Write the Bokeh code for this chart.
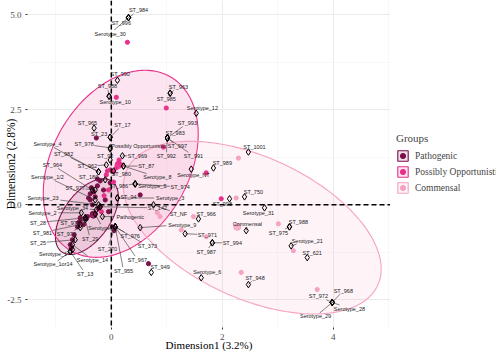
import numpy as np
from bokeh.plotting import figure
from bokeh.layouts import row
from bokeh.models import ColumnDataSource, Span, FixedTicker, Legend, LegendItem, Range1d
from bokeh.core.properties import value
from bokeh.embed import file_html
from bokeh.resources import INLINE

# ---------------- data ----------------
groups = ["Pathogenic", "Possibly Opportunistic", "Commensal"]
group_colors = ["#7B0F48", "#E8308A", "#F5A3C0"]

# individuals by group
path_x = [-0.27, -0.25, -0.20, -0.36, -0.32, -0.38, -0.29, -0.38, -0.20, -0.23, -0.43, -0.45, -0.56,
          -0.59, -0.56, -0.61, -0.67, -0.70, -0.74, -0.72, 0.02, 0.05, -0.29, 0.67, 0.52, -0.11,
          -0.05, -0.50, -0.34, -0.41, -0.25, -0.14, -0.02]
path_y = [1.76, 0.68, 0.63, 0.45, 0.34, 0.29, 0.21, 0.13, -0.05, -0.10, -0.31, -0.37, -0.34,
          -0.47, -0.42, -0.58, -0.79, -0.92, -1.05, -1.13, -0.58, -0.68, -0.24, -1.55, 0.26, 0.13,
          -0.18, -0.52, 0.00, 0.18, 0.50, 0.39, 0.58]
popp_x = [0.29, 0.09, 0.99, 0.94, 0.13, 0.18, 0.14, 0.04, -0.07, -0.09, -0.02, 0.04, 0.09, 1.71,
          1.98, -0.05, -0.13, -0.34, -0.18]
popp_y = [4.28, 2.83, 2.55, 1.52, 1.10, 1.05, 1.18, 0.87, 0.89, 0.79, 0.92, 0.60, 0.97, 0.84,
          0.16, 0.39, 0.24, -0.24, -0.18]
comm_x = [2.29, 2.25, 1.48, 1.26, 1.71, 0.83, 3.01, 3.28, 2.34, 3.71, 0.88]
comm_y = [1.23, 0.18, -0.31, -0.66, -0.84, -0.21, -0.50, -1.21, -1.78, -2.23, -0.31]

# group mean points
mean_x = [-0.32, 0.13, 2.27]
mean_y = [-0.26, 1.05, -0.58]

# concentration ellipses: centre, major and minor half-axis vectors
ell_cx = [-0.44, 0.17, 2.54]
ell_cy = [-0.31, 1.08, -0.60]
ell_ux = [0.449, 0.884, 2.26]
ell_uy = [0.932, 2.30, -1.52]
ell_vx = [0.346, 1.08, -0.535]
ell_vy = [-0.354, -0.88, -1.69]

# variable categories and their label positions
var_names = ["ST_984", "ST_996", "Serotype_30", "ST_990", "ST_988", "Serotype_10", "ST_963", "ST_985",
             "Serotype_12", "ST_965", "ST_17", "ST_23", "ST_993", "ST_983", "ST_997", "ST_992", "ST_991",
             "ST_978", "Serotype_4", "ST_982", "ST_92", "ST_969", "ST_87", "ST_962", "ST_964", "ST_980",
             "Serotype_8", "Serotype_1/2", "ST_180", "ST_986", "Serotype_5", "ST_974", "ST_977", "ST_94",
             "Serotype_3", "Serotype_23", "Serotype_34", "ST_142", "ST_NF", "Serotype_2", "ST_28", "ST_979",
             "ST_981", "ST_973", "ST_25", "Serotype_7", "ST_29", "ST_976", "ST_270", "Serotype_1",
             "Serotype_1or14", "Serotype_14", "ST_13", "ST_967", "ST_955", "ST_373", "ST_949", "ST_1001",
             "ST_989", "Serotype_NT", "ST_750", "ST_998", "Serotype_31", "ST_966", "Serotype_9", "ST_971",
             "ST_987", "ST_994", "Commensal", "Pathogenic", "Possibly Opportunistic", "ST_988", "ST_975",
             "Serotype_21", "ST_621", "Serotype_6", "ST_948", "ST_968", "ST_972", "Serotype_28", "Serotype_29"]
var_x = [0.31, 0.31, 0.31, 0.11, -0.04, -0.04, 1.06, 1.06,
         1.53, -0.31, -0.02, -0.02, 1.01, 1.01, 1.01, 1.01, 1.01,
         -0.02, -0.23, -0.23, -0.02, 0.20, 0.22, -0.09, -0.34, 0.04,
         0.22, -0.29, -0.11, 0.43, 0.43, 0.43, -0.29, 0.11,
         0.11, -0.23, -0.27, -0.20, 0.76, -0.54, -0.47, -0.47,
         -0.56, -0.56, -0.65, -0.29, -0.47, 0.07, 0.07, -0.70,
         -0.74, -0.70, -0.74, 0.07, 0.07, 0.07, 0.72, 2.47,
         1.84, 1.44, 2.40, 2.13, 2.76, 1.57, 0.52, 1.33,
         1.82, 1.82, 2.43, -0.16, -0.02, 3.21, 3.21,
         3.24, 3.53, 1.62, 2.47, 3.98, 3.98, 3.98, 3.98]
var_y = [4.93, 4.93, 4.93, 3.28, 2.86, 2.86, 2.94, 2.94,
         2.41, 2.02, 1.78, 1.78, 1.76, 1.76, 1.76, 1.76, 1.76,
         1.50, 0.87, 0.87, 1.18, 1.29, 1.02, 1.05, 0.39, 0.89,
         1.02, 0.13, 0.66, 0.55, 0.55, 0.55, 0.39, 0.18,
         0.18, 0.00, -0.13, -0.05, 0.00, -0.21, -0.34, -0.34,
         -0.52, -0.60, -0.92, -0.24, -0.39, -0.58, -0.58, -1.18,
         -1.23, -1.05, -1.23, -0.58, -0.58, -0.58, -1.78, 1.39,
         0.97, 0.94, 0.21, 0.16, -0.08, -0.37, -0.60, -0.76,
         -1.00, -1.00, -0.68, -0.31, 1.47, -0.58, -0.58,
         -1.08, -1.39, -1.92, -2.10, -2.57, -2.57, -2.57, -2.57]
lab_x = [0.49, 0.18, -0.02, 0.16, -0.07, 0.07, 1.21, 0.99,
         1.64, -0.43, 0.20, -0.22, 1.37, 1.15, 1.19, 0.99, 1.48,
         -0.49, -1.15, -0.86, -0.11, 0.47, 0.63, -0.43, -1.06, 0.18,
         0.83, -1.15, -0.41, 0.13, 0.74, 1.24, -0.65, 0.31,
         1.06, -1.23, -0.70, 0.83, 1.21, -1.24, -1.32, -0.74,
         -1.24, -0.81, -1.32, -0.16, -0.38, 0.34, -0.07, -1.05,
         -1.05, -0.34, -0.47, 0.47, 0.22, 0.65, 0.88, 2.58,
         2.00, 1.48, 2.56, 2.00, 2.65, 1.71, 1.28, 1.73,
         1.71, 2.18, 2.45, 0.34, 0.49, 3.37, 3.01,
         3.53, 3.62, 1.73, 2.59, 4.18, 3.73, 4.29, 3.68]
lab_y = [5.12, 4.78, 4.51, 3.44, 3.12, 2.70, 3.10, 2.78,
         2.55, 2.15, 2.10, 1.86, 2.15, 1.89, 1.55, 1.29, 1.29,
         1.60, 1.60, 1.34, 1.29, 1.29, 1.02, 1.02, 1.05, 0.81,
         0.73, 0.73, 0.73, 0.50, 0.50, 0.47, 0.45, 0.21,
         0.18, 0.18, -0.08, -0.08, -0.24, -0.21, -0.47, -0.47,
         -0.73, -0.76, -1.00, -0.60, -0.89, -0.81, -1.15, -1.29,
         -1.57, -1.44, -1.81, -1.44, -1.73, -1.08, -1.65, 1.52,
         1.10, 0.79, 0.34, 0.03, -0.21, -0.24, -0.52, -0.79,
         -1.23, -1.00, -0.50, -0.31, 1.55, -0.45, -0.73,
         -0.94, -1.26, -1.78, -1.92, -2.26, -2.41, -2.73, -2.94]

x_ticks = [0, 2, 4]
y_ticks = [-2.5, 0.0, 2.5, 5.0]

# ---------------- main figure ----------------
W, H = 390, 353
LEG_W = 106
ML, MT, MB = 27, 0, 25
X0, X1, Y0, Y1 = -1.51, 5.03, -3.23, 5.38

p = figure(width=W, height=H, output_backend="svg", toolbar_location=None,
           x_range=Range1d(X0, X1), y_range=Range1d(Y0, Y1),
           min_border_left=ML, min_border_right=0, min_border_top=MT, min_border_bottom=MB)
p.background_fill_color = "white"
p.border_fill_color = "white"
p.outline_line_color = None

serif = "Liberation Serif"
for ax, ticks, minor in ((p.xaxis, x_ticks, [-1, 1, 3, 5]), (p.yaxis, y_ticks, [-1.25, 1.25, 3.75])):
    ax.ticker = FixedTicker(ticks=ticks, minor_ticks=minor)
    ax.axis_line_color = None
    ax.minor_tick_line_color = None
    ax.major_tick_line_color = "#333333"
    ax.major_tick_out = 2
    ax.major_tick_in = 0
    ax.major_label_text_font = serif
    ax.major_label_text_font_size = "9px"
    ax.major_label_text_color = "#4D4D4D"
    ax.major_label_standoff = 2
    ax.axis_label_text_font = serif
    ax.axis_label_text_font_size = "11.5px"
    ax.axis_label_text_font_style = "normal"
    ax.axis_label_text_color = "black"
p.xaxis.axis_label_text_font_size = "11px"
p.xaxis.axis_label_standoff = -4
p.yaxis.axis_label_standoff = -13
p.xaxis.axis_label = "Dimension1 (3.2%)"
p.yaxis.axis_label = "Dimension2 (2.8%)"
p.xaxis.major_label_overrides = {0: "0", 2: "2", 4: "4"}
p.yaxis.major_label_overrides = {-2.5: "-2.5", 0: "0.0", 2.5: "2.5", 5: "5.0"}

for g in (p.xgrid, p.ygrid):
    g.grid_line_color = "#EBEBEB"
    g.grid_line_width = 1
    g.minor_grid_line_color = "#F3F3F3"
    g.minor_grid_line_width = 0.6

# ellipses
t = np.linspace(0, 2 * np.pi, 200)
for i, col in enumerate(group_colors):
    ex = ell_cx[i] + ell_ux[i] * np.cos(t) + ell_vx[i] * np.sin(t)
    ey = ell_cy[i] + ell_uy[i] * np.cos(t) + ell_vy[i] * np.sin(t)
    p.patch(ex, ey, fill_color=col, fill_alpha=0.13, line_color=col, line_width=1.1)

# reference lines
p.add_layout(Span(location=0, dimension="height", line_color="black", line_dash="5 3", line_width=1.5))
p.add_layout(Span(location=0, dimension="width", line_color="black", line_dash="5 3", line_width=1.5))

# individuals
pts = [(path_x, path_y), (popp_x, popp_y), (comm_x, comm_y)]
for (xs, ys), col in zip(pts, group_colors):
    p.scatter(xs, ys, size=4.2, fill_color=col, line_color=col, marker="circle")
p.scatter(mean_x, mean_y, size=7, fill_color=group_colors, line_color=group_colors, fill_alpha=0.8)

# segments from label box edge to point (screen-space geometry)
sx = (W - ML) / (X1 - X0)
sy = (H - MT - MB) / (Y1 - Y0)
seg_x0, seg_y0, seg_x1, seg_y1 = [], [], [], []
for n, vx, vy, lx, ly in zip(var_names, var_x, var_y, lab_x, lab_y):
    dx = (vx - lx) * sx
    dy = (vy - ly) * sy
    hw = 1.45 * len(n) + 1.5
    hh = 3.5
    if abs(dx) <= hw and abs(dy) <= hh:
        continue
    tt = min(hw / abs(dx) if dx else 1e9, hh / abs(dy) if dy else 1e9)
    if (1 - tt) * np.hypot(dx, dy) < 3:
        continue
    seg_x0.append(lx + tt * dx / sx)
    seg_y0.append(ly + tt * dy / sy)
    seg_x1.append(vx)
    seg_y1.append(vy)
p.segment(seg_x0, seg_y0, seg_x1, seg_y1, line_color="#333333", line_width=0.6)

# variable points
p.scatter(var_x, var_y, marker="diamond", size=6.5, fill_color="white", fill_alpha=0.0,
          line_color="black", line_width=1)

# labels
src = ColumnDataSource(dict(x=lab_x, y=lab_y, t=var_names))
p.text(x="x", y="y", text="t", source=src, text_font=value("Liberation Sans"), text_font_size="5.5px",
       text_align="center", text_baseline="middle", text_color="#222222")

# ---------------- legend panel ----------------
leg = figure(width=LEG_W, height=H, output_backend="svg", toolbar_location=None,
             x_range=Range1d(0, 1), y_range=Range1d(0, 1),
             x_axis_location=None, y_axis_location=None, min_border=0)
leg.outline_line_color = None
leg.grid.grid_line_color = None
leg.background_fill_color = "white"
leg.border_fill_color = "white"
items = []
for g, col in zip(groups, group_colors):
    pr = leg.patch([5, 6, 6], [5, 5, 6], fill_color=col, fill_alpha=0.13, line_color=col, line_width=1.1)
    sr = leg.scatter([5], [5], size=4.5, fill_color=col, line_color=col)
    items.append(LegendItem(label=g, renderers=[pr, sr]))
legend = Legend(items=items, location=(6, 133), title="Groups",
                title_text_font=serif, title_text_font_size="11px", title_text_font_style="normal",
                title_standoff=5,
                label_text_font=serif, label_text_font_size="9.5px",
                glyph_width=13, glyph_height=13, spacing=3, padding=0, margin=0,
                label_standoff=6, border_line_color=None, background_fill_alpha=0)
leg.add_layout(legend)

open("out.html", "w").write(file_html(row(p, leg), INLINE))
